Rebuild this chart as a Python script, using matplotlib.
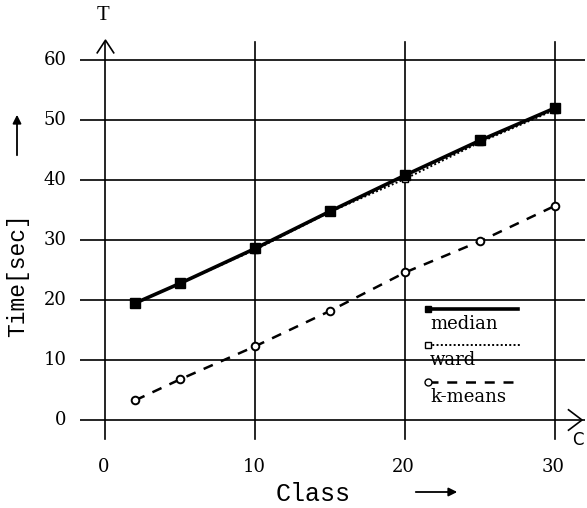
import matplotlib
matplotlib.use("Agg")
import matplotlib.pyplot as plt
from matplotlib.lines import Line2D

# ---- data ----
classes = [2, 5, 10, 15, 20, 25, 30]
median = [19.5, 22.8, 28.6, 34.8, 40.8, 46.6, 52.0]
ward = [19.5, 22.8, 28.4, 34.7, 40.2, 46.3, 51.7]
kmeans = [3.3, 6.8, 12.3, 18.2, 24.6, 29.8, 35.7]
series_labels = ["median", "ward", "k-means"]
xticks = [0, 10, 20, 30]
yticks = [0, 10, 20, 30, 40, 50, 60]

serif = ["DejaVu Serif"]
mono = ["Liberation Mono", "DejaVu Sans Mono"]

W, H = 587, 508
fig = plt.figure(figsize=(W / 100, H / 100), dpi=100)
fig.patch.set_facecolor("white")

# axes spanning px x 80..585, y 39..441
x0, x1 = -1.7, 32.0
y0, y1 = -3.5, 63.5
ax = fig.add_axes([80 / W, (H - 441) / H, 505 / W, 402 / H])
ax.set_xlim(x0, x1)
ax.set_ylim(y0, y1)
ax.axis("off")

# grid lines
for yv in yticks:
    ax.plot([x0, x1], [yv, yv], color="black", lw=1.2, zorder=1, solid_capstyle="butt")
for xv in xticks:
    ax.plot([xv, xv], [y0 + 0.3, 63.0], color="black", lw=1.2, zorder=1)

# arrows at axis ends
ax.plot([-0.55, 0, 0.55], [61.2, 63.3, 61.2], color="black", lw=1.2, clip_on=False)
ax.plot([30.9, 31.8, 30.9], [1.7, 0, -1.7], color="black", lw=1.2, clip_on=False)

# series
ax.plot(classes, median, color="black", lw=2.6, marker="s", ms=6.5, mfc="black", mec="black", zorder=4)
ax.plot(classes, ward, color="black", lw=1.4, ls=(0, (1, 1.2)), marker="s", ms=5, mfc="white", mec="black", zorder=3)
ax.plot(classes, kmeans, color="black", lw=1.8, ls=(0, (4, 3.5)), marker="o", ms=5.5, mfc="white", mec="black", mew=1.4, zorder=3)

# tick labels
for yv in yticks:
    ax.text(-2.6, yv, str(yv), ha="right", va="center", fontsize=13, family=serif)
for xv in xticks:
    ax.text(xv - 0.1, -7.8, str(xv), ha="center", va="center", fontsize=13, family=serif, clip_on=False)

# axis letters
fig.text(103 / W, 1 - 16 / H, "T", ha="center", va="center", fontsize=15, family=["Liberation Serif"])
fig.text(584 / W, 1 - 440 / H, "C", ha="right", va="center", fontsize=12, family=["DejaVu Sans"])

# axis titles with arrows
fig.text(313 / W, 1 - 494 / H, "Class", ha="center", va="center", fontsize=18, family=mono)
fig.add_artist(matplotlib.patches.FancyArrowPatch((413 / W, 1 - 492 / H), (460 / W, 1 - 492 / H),
               transform=fig.transFigure, arrowstyle="-|>,head_length=5,head_width=2.5", color="black", lw=1.3))
fig.text(18 / W, 1 - 275 / H, "Time[sec]", ha="center", va="center", rotation=90, fontsize=16.5, family=mono)
fig.add_artist(matplotlib.patches.FancyArrowPatch((17 / W, 1 - 158 / H), (17 / W, 1 - 112 / H),
               transform=fig.transFigure, arrowstyle="-|>,head_length=5,head_width=2.5", color="black", lw=1.3))

# manual legend
leg_specs = [
    dict(color="black", lw=2.6, ls="-", marker="s", ms=5, mfc="black", mec="black"),
    dict(color="black", lw=1.4, ls=(0, (1, 1.2)), marker="s", ms=5, mfc="white", mec="black"),
    dict(color="black", lw=1.8, ls=(0, (4, 3.5)), marker="o", ms=5, mfc="white", mec="black"),
]
leg_line_y = [309, 345, 382]
leg_line_x2 = [518, 520, 515]
for lab, spec, ly, lx2 in zip(series_labels, leg_specs, leg_line_y, leg_line_x2):
    ln = Line2D([428 / W, lx2 / W], [1 - ly / H, 1 - ly / H], transform=fig.transFigure,
                markevery=[0], **spec)
    fig.add_artist(ln)
    fig.text(430 / W, 1 - (ly + 15) / H, lab, ha="left", va="center", fontsize=13, family=serif)

fig.savefig("out.png", dpi=100, facecolor="white")
